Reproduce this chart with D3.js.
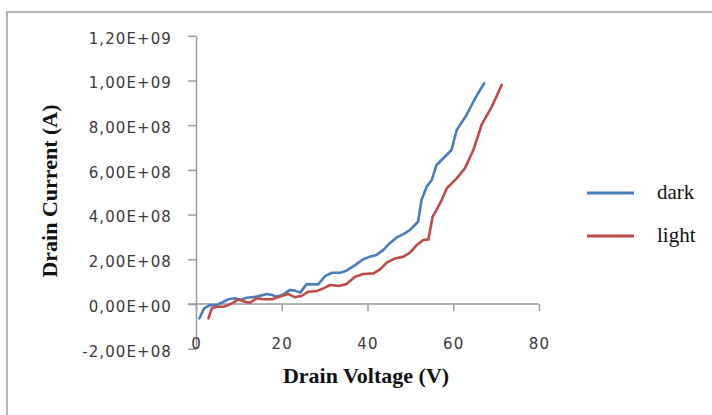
<!DOCTYPE html>
<html>
<head>
<meta charset="utf-8">
<script src="https://cdn.jsdelivr.net/npm/d3@7"></script>
<style>
  body { margin: 0; background: #fff; }
  .tick text { font-family: "DejaVu Sans", sans-serif; font-size: 15px; letter-spacing: 1.1px; fill: #3a3a3a; }
  .axis path, .axis line { stroke: #9c9c9c; stroke-width: 1.5; }
  .title { font-family: "Liberation Serif", serif; font-weight: bold; font-size: 22px; fill: #111; }
  .legend text { font-family: "Liberation Serif", serif; font-size: 21px; fill: #111; }
</style>
</head>
<body>
<div id="chart"></div>
<script>
// drain voltage (V) / drain current (A)
const darkV = [0.8, 1.9, 3.3, 4.8, 6.4, 7.5, 9.1, 10.3, 11.8, 14.2, 16.5, 17.7, 18.8, 20.4, 21.9, 23.1, 24.3, 25.8, 27.0, 28.5, 30.1, 31.7, 33.6, 35.1, 37.1, 39.0, 40.6, 42.1, 43.7, 45.2, 46.8, 48.4, 49.9, 51.8, 52.6, 53.8, 55.0, 56.1, 57.7, 59.6, 60.8, 63.1, 64.7, 65.8, 67.2];
const darkI = [-0.64e8, -0.19e8, -0.05e8, -0.05e8, 0.10e8, 0.21e8, 0.26e8, 0.18e8, 0.28e8, 0.33e8, 0.45e8, 0.40e8, 0.33e8, 0.43e8, 0.63e8, 0.60e8, 0.51e8, 0.89e8, 0.88e8, 0.88e8, 1.25e8, 1.40e8, 1.40e8, 1.49e8, 1.74e8, 2.00e8, 2.12e8, 2.19e8, 2.42e8, 2.72e8, 2.98e8, 3.13e8, 3.31e8, 3.68e8, 4.65e8, 5.25e8, 5.55e8, 6.22e8, 6.52e8, 6.89e8, 7.78e8, 8.46e8, 9.05e8, 9.43e8, 9.87e8];
const lightV = [2.9, 3.7, 4.8, 6.4, 7.5, 8.7, 9.9, 11.4, 12.6, 14.2, 15.7, 17.7, 19.6, 21.5, 23.1, 24.7, 26.2, 28.2, 29.7, 31.3, 33.2, 35.1, 37.1, 39.0, 41.4, 42.9, 44.5, 46.4, 48.4, 49.9, 51.5, 53.0, 54.2, 55.2, 56.1, 57.3, 58.5, 60.8, 62.7, 64.7, 66.6, 69.0, 71.3];
const lightI = [-0.64e8, -0.19e8, -0.12e8, -0.12e8, -0.05e8, 0.06e8, 0.21e8, 0.10e8, 0.06e8, 0.26e8, 0.21e8, 0.21e8, 0.33e8, 0.45e8, 0.30e8, 0.37e8, 0.55e8, 0.58e8, 0.70e8, 0.85e8, 0.81e8, 0.89e8, 1.22e8, 1.34e8, 1.37e8, 1.55e8, 1.85e8, 2.04e8, 2.12e8, 2.30e8, 2.64e8, 2.86e8, 2.89e8, 3.91e8, 4.21e8, 4.65e8, 5.18e8, 5.62e8, 6.07e8, 6.89e8, 8.01e8, 8.83e8, 9.80e8];
const yTicks = [-2e8, 0, 2e8, 4e8, 6e8, 8e8, 1e9, 1.2e9];
const xTicks = [0, 20, 40, 60, 80];
const seriesNames = ["dark", "light"];
const colors = ["#4a7ebb", "#be4b48"];

const width = 712, height = 415;
const svg = d3.select("#chart").append("svg")
  .attr("width", width).attr("height", height);

// outer frame (right and bottom edges fall outside the picture)
svg.append("rect")
  .attr("x", 7).attr("y", 12).attr("width", 800).attr("height", 500)
  .attr("fill", "none").attr("stroke", "#b4b4b4").attr("stroke-width", 2);

const x = d3.scaleLinear().domain([0, 80]).range([196, 539]);
const y = d3.scaleLinear().domain([-2e8, 1.2e9]).range([348.7, 35.8]);

// Excel style "1,20E+09"
function sci(v) {
  if (v === 0) return "0,00E+00";
  const e = Math.floor(Math.log10(Math.abs(v)));
  const m = (v / Math.pow(10, e)).toFixed(2).replace(".", ",");
  return m + "E+" + String(e).padStart(2, "0");
}

const gy = svg.append("g").attr("class", "axis")
  .attr("transform", `translate(${x(0)},0)`)
  .call(d3.axisLeft(y).tickValues(yTicks).tickFormat(sci).tickSize(8).tickSizeOuter(0).tickPadding(16));
gy.selectAll(".tick text").attr("y", 2.5);

const gx = svg.append("g").attr("class", "axis")
  .attr("transform", `translate(0,${y(0)})`)
  .call(d3.axisBottom(x).tickValues(xTicks).tickSize(7).tickSizeOuter(0));
gx.select(".domain").attr("d", `M${x(0) - 8},0H${x(80)}`);
gx.selectAll(".tick text").attr("y", y(-2e8) - y(0) - 5).attr("dy", "0.32em");

const line = d3.line().x(d => x(d[0])).y(d => y(d[1]));
const series = [d3.zip(darkV, darkI), d3.zip(lightV, lightI)];

svg.selectAll(".series")
  .data(series)
  .join("path")
  .attr("class", "series")
  .attr("d", line)
  .attr("fill", "none")
  .attr("stroke", (d, i) => colors[i])
  .attr("stroke-width", 2.6)
  .attr("stroke-linejoin", "round")
  .attr("stroke-linecap", "round");

// axis titles
svg.append("text").attr("class", "title")
  .attr("x", 366).attr("y", 383).attr("text-anchor", "middle")
  .text("Drain Voltage (V)");
svg.append("text").attr("class", "title")
  .attr("transform", "translate(57,191) rotate(-90)")
  .attr("text-anchor", "middle")
  .text("Drain Current (A)");

// legend
const legend = svg.append("g").attr("class", "legend");
const items = legend.selectAll("g")
  .data(seriesNames)
  .join("g")
  .attr("transform", (d, i) => `translate(0,${193 + i * 43})`);
items.append("line")
  .attr("x1", 587).attr("x2", 634)
  .attr("stroke", (d, i) => colors[i]).attr("stroke-width", 3);
items.append("text")
  .attr("x", 657).attr("dy", "0.3em")
  .text(d => d);
</script>
</body>
</html>
